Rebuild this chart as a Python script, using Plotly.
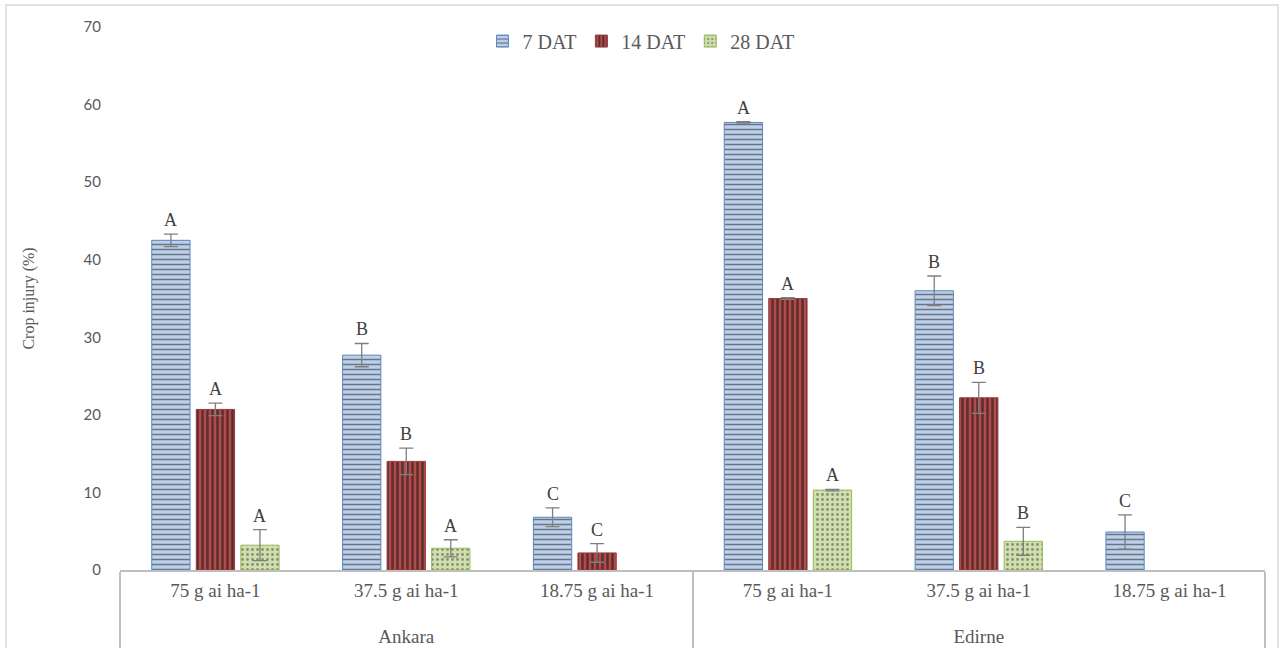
import plotly.graph_objects as go

# Sites and herbicide rates (two-level category axis)
sites = ["Ankara"] * 3 + ["Edirne"] * 3
rates = ["75 g ai ha-1", "37.5 g ai ha-1", "18.75 g ai ha-1"] * 2

# Crop injury (%) by days after treatment
injury_7 = [42.5, 27.7, 6.8, 57.7, 36.0, 4.9]
injury_14 = [20.7, 14.0, 2.2, 35.0, 22.2, None]
injury_28 = [3.2, 2.8, None, 10.3, 3.7, None]

# Standard errors
err_7 = [0.8, 1.5, 1.2, 0.1, 1.9, 2.2]
err_14 = [0.8, 1.7, 1.2, 0.1, 2.0, 0]
err_28 = [2.0, 1.1, 0, 0.1, 1.8, 0]

# Mean separation letters
let_7 = ["A", "B", "C", "A", "B", "C"]
let_14 = ["A", "B", "C", "A", "B", ""]
let_28 = ["A", "A", "", "A", "B", ""]

series = [
    ("7 DAT", injury_7, err_7, let_7,
     dict(color="#b3c9e6", line=dict(color="#5b87c0", width=1),
          pattern=dict(shape="-", fgcolor="#1a1a1a", bgcolor="#bcd0ea", size=5, solidity=0.3))),
    ("14 DAT", injury_14, err_14, let_14,
     dict(color="#a94646", line=dict(color="#9b3a3a", width=1),
          pattern=dict(shape="|", fgcolor="#0d0d0d", bgcolor="#b04c4c", size=5, solidity=0.5))),
    ("28 DAT", injury_28, err_28, let_28,
     dict(color="#c3d99b", line=dict(color="#9bbb59", width=1),
          pattern=dict(shape=".", fgcolor="#404040", bgcolor="#cfe0ad", size=5, solidity=0.25))),
]

serif = "Liberation Serif"

# Two-line rate labels leave room for the site row underneath
rate_labels = [r + "<br> " for r in rates]

fig = go.Figure()
for name, vals, errs, letters, marker in series:
    fig.add_trace(go.Bar(
        name=name,
        x=[sites, rate_labels],
        y=vals,
        marker=marker,
        error_y=dict(type="data", array=errs, visible=True, color="#7f7f7f",
                     thickness=1.3, width=7),
    ))

# Letters above the error bars
for i, (name, vals, errs, letters, marker) in enumerate(series):
    for j, (v, e, t) in enumerate(zip(vals, errs, letters)):
        if v is None or not t:
            continue
        fig.add_annotation(
            x=j + (i - 1) * 0.233, y=v + e, xref="x", yref="y",
            text=t, showarrow=False, yanchor="bottom", yshift=2,
            font=dict(family=serif, size=18, color="#404040"),
        )

fig.update_layout(
    width=1280, height=648,
    margin=dict(l=120, r=15, t=27, b=78),
    paper_bgcolor="white", plot_bgcolor="white",
    barmode="group", bargap=0.30, bargroupgap=0.14,
    font=dict(family=serif, size=19, color="#595959"),
    legend=dict(orientation="h", x=0.455, xanchor="center", y=1.01, yanchor="top",
                font=dict(family=serif, size=20, color="#595959"),
                itemwidth=30, bgcolor="rgba(0,0,0,0)"),
    yaxis=dict(range=[0, 70], dtick=10, showgrid=False, zeroline=False,
               showline=False, ticks="", ticklabelstandoff=18, automargin=False,
               tickfont=dict(family="Lato", size=15, color="#595959"),
               title=dict(text="Crop injury (%)", font=dict(family=serif, size=16, color="#595959"),
                          standoff=44)),
    xaxis=dict(showline=True, linecolor="#bfbfbf", linewidth=2, ticks="",
               ticklabelstandoff=2, automargin=False,
               showdividers=True, dividercolor="#bfbfbf", dividerwidth=2,
               tickfont=dict(family=serif, size=19, color="#595959")),
    shapes=[dict(type="rect", xref="paper", yref="paper",
                 x0=-114 / 1145, x1=1158 / 1145, y0=-90 / 543, y1=1 + 22 / 543,
                 line=dict(color="#d9d9d9", width=1.5))],
)

fig.write_html("out.html")
